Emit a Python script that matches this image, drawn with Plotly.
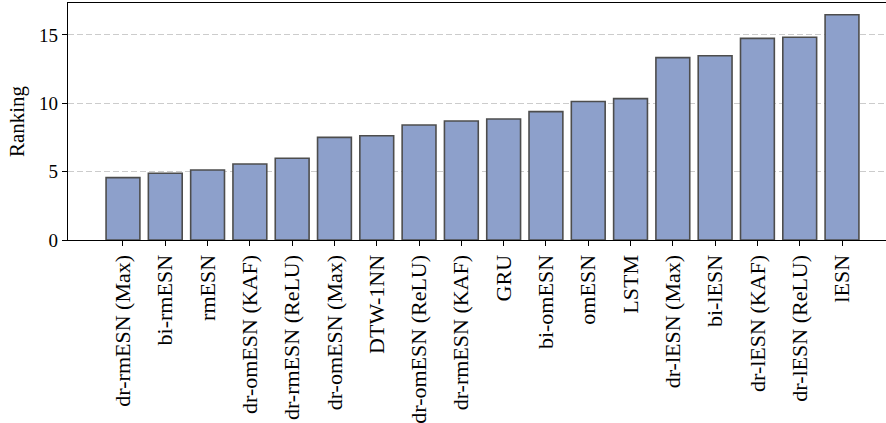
import plotly.graph_objects as go

models = ["dr-rmESN (Max)", "bi-rmESN", "rmESN", "dr-omESN (KAF)", "dr-rmESN (ReLU)",
          "dr-omESN (Max)", "DTW-1NN", "dr-omESN (ReLU)", "dr-rmESN (KAF)", "GRU",
          "bi-omESN", "omESN", "LSTM", "dr-lESN (Max)", "bi-lESN", "dr-lESN (KAF)",
          "dr-lESN (ReLU)", "lESN"]
ranking = [4.56, 4.88, 5.12, 5.56, 5.98, 7.51, 7.63, 8.41, 8.71, 8.85, 9.39, 10.13,
           10.34, 13.34, 13.48, 14.75, 14.83, 16.48]
yticks = [0, 5, 10, 15]

fig = go.Figure()
fig.add_trace(go.Bar(
    x=list(range(len(models))), y=ranking, width=0.8,
    marker=dict(color="#8da0cb", line=dict(color="#4d4d4d", width=1.6)),
))
fig.update_layout(
    width=886, height=423,
    margin=dict(l=68, r=0, t=3, b=183),
    plot_bgcolor="white", paper_bgcolor="white",
    font=dict(family="Liberation Serif, Times New Roman, serif", size=19, color="black"),
    showlegend=False,
    xaxis=dict(
        tickmode="array", tickvals=list(range(len(models))), ticktext=models,
        tickfont=dict(size=22),
        tickangle=-90, ticks="outside", ticklen=5, tickwidth=1.3, tickcolor="black",
        showline=True, linecolor="black", linewidth=1.3, mirror=True,
        showgrid=False, zeroline=False,
        range=[-1.3, len(models) - 1 + 1.04],
    ),
    yaxis=dict(
        title=dict(text="Ranking", font=dict(size=21), standoff=8),
        tickmode="array", tickvals=yticks, tickfont=dict(size=19),
        ticks="outside", ticklen=5, tickwidth=1.3, tickcolor="black",
        showline=True, linecolor="black", linewidth=1.3,
        showgrid=True, gridcolor="#cccccc", griddash="6px,3px", gridwidth=1.3,
        zeroline=False, range=[0, 17.34],
    ),
)
fig.write_html("out.html")
